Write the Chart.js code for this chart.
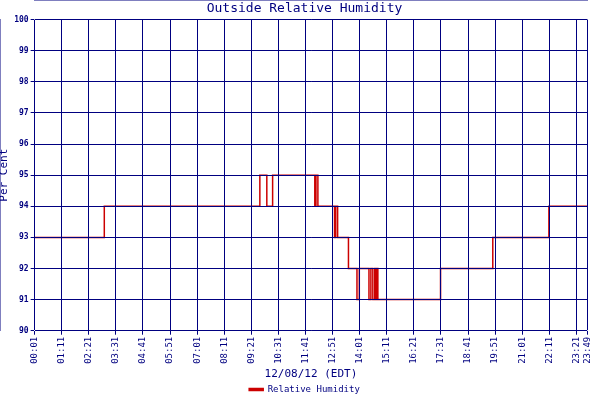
<!DOCTYPE html>
<html><head><meta charset="utf-8">
<script src="https://cdn.jsdelivr.net/npm/chart.js@4"></script>
<style>html,body{margin:0;background:#fff}#w{width:600px;height:400px}</style>
</head><body><div id="w"><canvas id="c"></canvas></div>
<script>
const stepMinutes = [1,181,583,601,616,725,728,733,776,779,784,812,834,840,865,870,875,880,883,885,888,1050,1185,1330,1429];
const stepValues  = [93,94,95,94,95,94,95,94,93,94,93,92,91,92,91,92,91,92,91,92,91,92,93,94,94];
const tickMinutes = [1,71,141,211,281,351,421,491,561,631,701,771,841,911,981,1051,1121,1191,1261,1331,1401,1429];
const NAVY='#000080', RED='#cc0000', F='DejaVu Sans Mono';
const pts = stepMinutes.map((m,i)=>({x:m,y:stepValues[i]}));
function fmt(m){const h=Math.floor(m/60),mm=m%60;return String(h).padStart(2,'0')+':'+String(mm).padStart(2,'0');}
new Chart(document.getElementById('c'),{
 type:'line',
 data:{datasets:[{label:'Relative Humidity',data:pts,stepped:true,borderColor:RED,backgroundColor:RED,borderWidth:1.5,pointRadius:0,fill:false}]},
 options:{responsive:true,maintainAspectRatio:false,animation:false,
  layout:{padding:{left:-2,right:-11,top:0,bottom:-4}},
  plugins:{
   title:{display:true,text:'Outside Relative Humidity',color:NAVY,font:{family:F,size:13,weight:'normal'},padding:{top:1,bottom:3}},
   legend:{position:'bottom',labels:{color:NAVY,font:{family:F,size:9},boxWidth:14,boxHeight:2,padding:0}}
  },
  scales:{
   x:{type:'linear',min:1,max:1429,
    afterBuildTicks:a=>{a.ticks=tickMinutes.map(v=>({value:v}));},
    ticks:{color:NAVY,font:{family:F,size:9},minRotation:90,maxRotation:90,autoSkip:false,callback:v=>fmt(v),padding:2},
    grid:{color:NAVY,z:1,lineWidth:1,tickLength:4},border:{color:NAVY},
    title:{display:true,text:'12/08/12 (EDT)',color:NAVY,font:{family:F,size:11},padding:{top:2,bottom:4}}},
   y:{min:90,max:100,
    ticks:{stepSize:1,color:NAVY,font:{family:F,size:8,weight:'bold'},padding:2},
    grid:{color:NAVY,z:1,lineWidth:1,tickLength:4},border:{color:NAVY},
    title:{display:true,text:'Per Cent',color:NAVY,font:{family:F,size:11},padding:{top:0,bottom:1}}}
  }}
});
</script></body></html>
